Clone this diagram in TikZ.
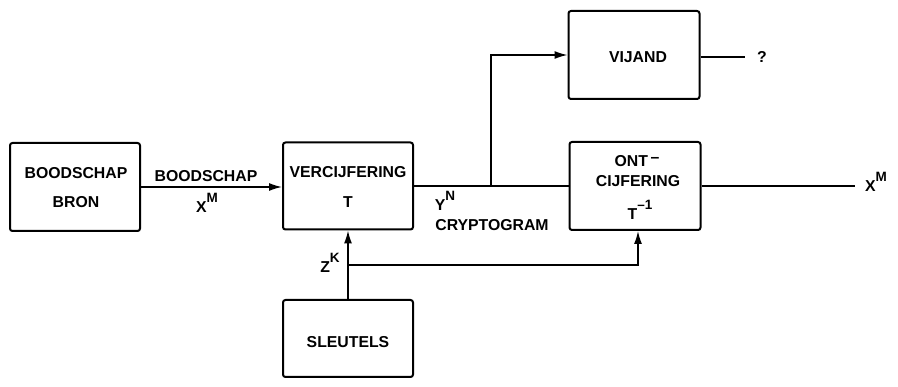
\documentclass[tikz,border=0pt]{standalone}
\usepackage{fontspec}
\setmainfont{Liberation Sans}
\usetikzlibrary{arrows.meta}
\newcommand\supx[2]{#1\raisebox{0.6em}{\fontsize{13.5}{14}\selectfont #2}}
\begin{document}
\begin{tikzpicture}[x=1pt,y=-1pt,
  every node/.style={font=\fontsize{15.8}{17}\selectfont\bfseries},
  blk/.style={draw, line width=2pt, rounded corners=2.5pt, minimum width=130pt, inner sep=0pt},
  txt/.style={inner sep=0pt, anchor=center},
  ln/.style={line width=1.5pt},
  arr/.style={line width=1.5pt, -{Latex[length=13pt,width=8pt]}}]
\useasboundingbox (0,0) rectangle (898,387);
% boxes
\node[blk, minimum height=88pt] (src) at (75,187) {};
\node[blk, minimum height=87pt] (enc) at (348,186) {};
\node[blk, minimum width=131pt, minimum height=88pt] (vij) at (634,55) {};
\node[blk, minimum width=131pt, minimum height=88pt] (dec) at (635,186) {};
\node[blk, minimum height=77pt] (key) at (348,338.5) {};
% box texts
\node[txt] (src1) at (76,173) {BOODSCHAP};
\node[txt] (src2) at (76,202) {BRON};
\node[txt] (enc1) at (348,172) {VERCIJFERING};
\node[txt] (enc2) at (348,202) {T};
\node[txt] (vij1) at (638,57) {VIJAND};
\node[txt] (dec1) at (637,161) {ONT\,\raisebox{0.25em}{–}};
\node[txt] (dec2) at (638,181) {CIJFERING};
\node[txt] (dec3) at (640,210) {\supx{T}{–1}};
\node[txt] (key1) at (348,342) {SLEUTELS};
% connectors
\draw[arr] (src.east) -- (enc.west |- src.east);
\coordinate (j) at (491,186);
\draw[ln] (enc.east) -- (dec.west);
\draw[arr] (j) |- (vij.west);
\coordinate (q) at (745,57);
\draw[ln] (vij.east |- q) -- (q);
\node[txt] (qm) at (762,57) {?};
\coordinate (xo) at (855,186);
\draw[ln] (dec.east) -- (xo);
\node[txt] (xm2) at (876,182) {\supx{X}{M}};
\draw[arr] (key.north) -- (enc.south);
\coordinate (k) at (348,265);
\draw[arr] (k) -| ([xshift=3pt]dec.south);
% labels
\node[txt] (lb1) at (206,176) {BOODSCHAP};
\node[txt] (lb2) at (207,203) {\supx{X}{M}};
\node[txt] (lb3) at (445,201) {\supx{Y}{N}};
\node[txt] (lb4) at (492,225) {CRYPTOGRAM};
\node[txt] (lb5) at (330,263) {\supx{Z}{K}};
\end{tikzpicture}
\end{document}
